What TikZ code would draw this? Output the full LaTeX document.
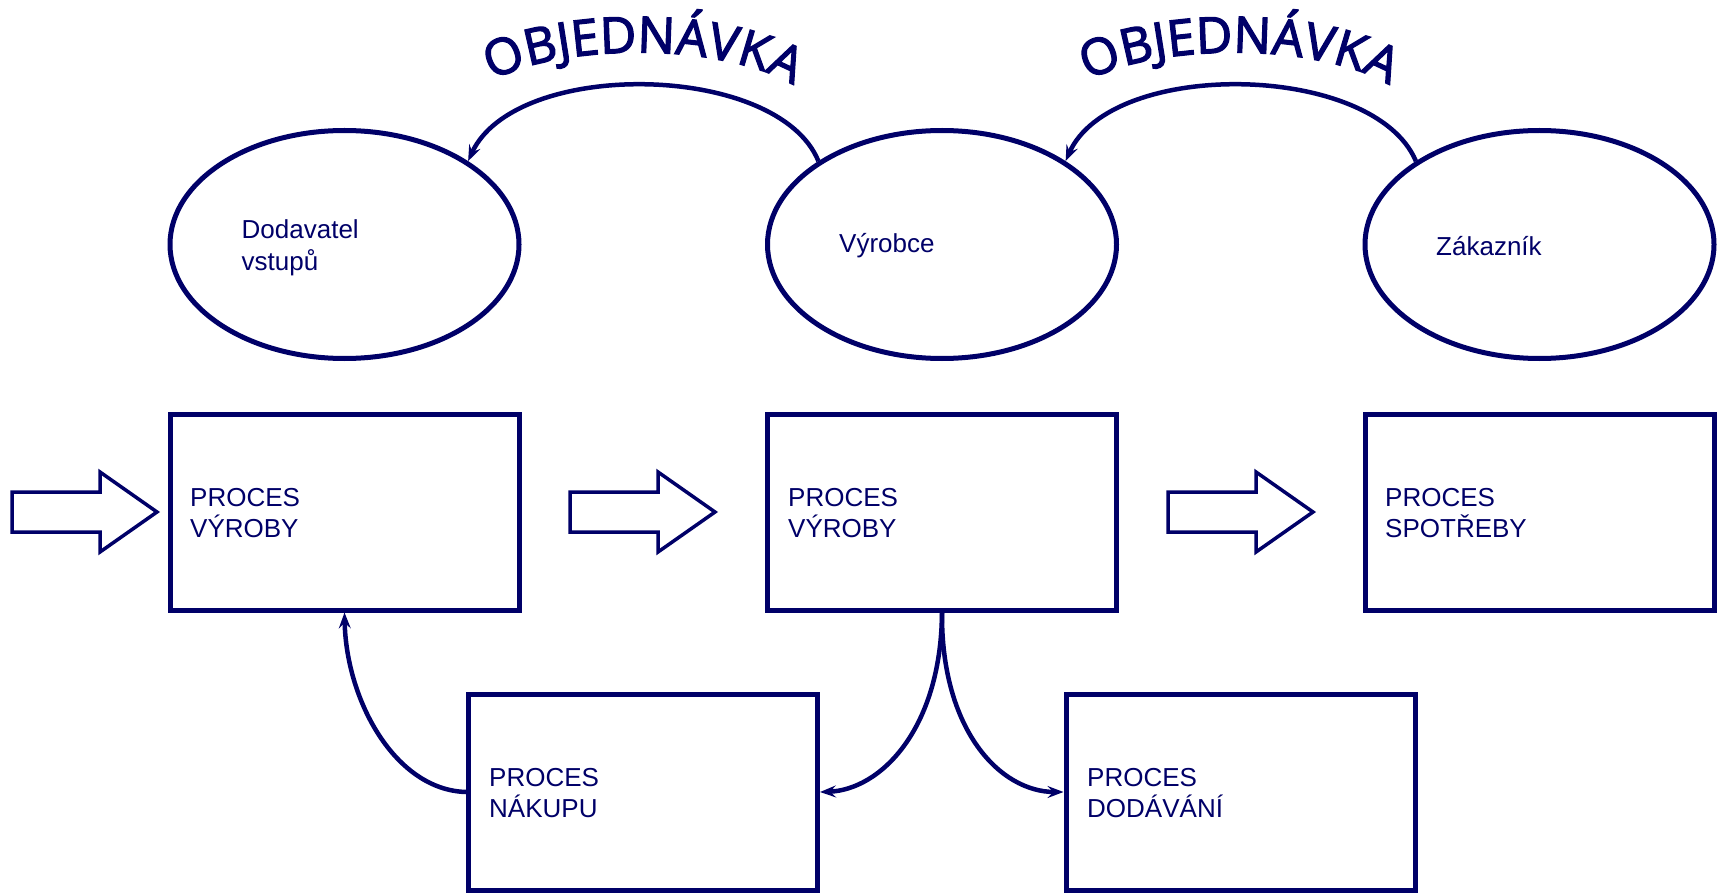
\documentclass[tikz,border=0pt]{standalone}
\usepackage{fontspec}
\setmainfont{Liberation Sans}
\newfontfamily\orderfont{Open Sans}[FakeBold=2.6]
\usetikzlibrary{shapes.geometric,arrows.meta,decorations.text}
\definecolor{navy}{RGB}{0,0,104}
\tikzset{
  actor/.style={ellipse, draw=navy, line width=5pt, minimum width=349pt, minimum height=228pt, inner sep=0pt},
  procbox/.style={rectangle, draw=navy, line width=5pt, minimum width=349pt, minimum height=196pt, inner sep=0pt},
  lbl/.style={anchor=west, text=navy, align=left, inner sep=0pt, font=\fontsize{26}{31.5}\selectfont},
  conn/.style={draw=navy, line width=4.5pt, -{Stealth[length=16pt,width=12pt,inset=6pt]}},
  barrow/.style={draw=navy, line width=3.5pt, line join=miter},
  blockarrow/.pic={\draw[barrow] (0,-20) -- (88,-20) -- (88,-40) -- (145,0) -- (88,40) -- (88,20) -- (0,20) -- cycle;},
  ordertext/.style={decorate, decoration={text along path, text align=center, text color=navy,
      text={|\orderfont\fontsize{50}{50}\selectfont|OBJEDNÁVKA}}}
}
\begin{document}
\begin{tikzpicture}[x=1pt,y=-1pt]
\useasboundingbox (0,0) rectangle (1720,893);

% actors
\node[actor] (yl) at (344.5,244.5) {};
\node[actor] (ym) at (942,244.5) {};
\node[actor] (yr) at (1539.5,244.5) {};
\node[lbl] (tl) at (241.5,248) {Dodavatel\\vstupů};
\node[lbl] (tm) at (839,246) {Výrobce};
\node[lbl] (tr) at (1436,246) {Zákazník};

% processes
\node[procbox] (vl) at (344.5,512) {};
\node[procbox] (vm) at (942,512) {};
\node[procbox] (vr) at (1539.5,512) {};
\node[procbox] (nak) at (643,792) {};
\node[procbox] (dod) at (1240.5,792) {};
\node[lbl] (pl) at (190,513) {PROCES\\VÝROBY};
\node[lbl] (pm) at (788,513) {PROCES\\VÝROBY};
\node[lbl] (pr) at (1385,513) {PROCES\\SPOTŘEBY};
\node[lbl] (pn) at (489,793) {PROCES\\NÁKUPU};
\node[lbl] (pd) at (1087,793) {PROCES\\DODÁVÁNÍ};

% material flow
\pic at (12,512) {blockarrow};
\pic at (570,512) {blockarrow};
\pic at (1168,512) {blockarrow};

% orders
\draw[conn] (ym.146.5) .. controls (778,62) and (515,58) .. (yl.34);
\draw[conn] (yr.146.5) .. controls (1374,62) and (1111,58) .. (ym.34.5);
\path[ordertext] (485,85) .. controls (550,42) and (730,40) .. (800,90);
\path[ordertext] (1081,85) .. controls (1146,42) and (1326,40) .. (1396,90);

% purchasing and delivery
\draw[conn] (nak.west) .. controls (395,790) and (346,700) .. (vl.south);
\draw[conn] (vm.south) .. controls (941,730) and (880,790) .. (nak.east);
\draw[conn] (vm.south) .. controls (941,730) and (1000,792) .. (dod.west);
\end{tikzpicture}
\end{document}
